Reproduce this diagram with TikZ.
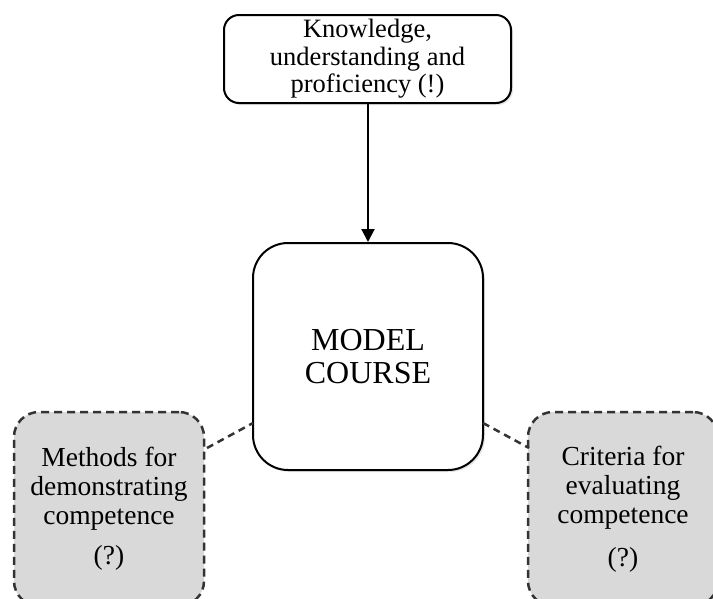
\documentclass[tikz,border=0pt]{standalone}
\usepackage{xcolor}
\usepackage{fontspec}
\setmainfont{Liberation Serif}
\usepackage{tikz}
\usetikzlibrary{positioning}
\usetikzlibrary{shapes.geometric, arrows.meta, shadows}

\definecolor{boxgray}{HTML}{D9D9D9}
\definecolor{edgegray}{HTML}{333333}

\begin{document}
\begin{tikzpicture}[
    x=1pt, y=-1pt,
    topbox/.style={
        rectangle,
        rounded corners=15pt,
        draw=black,
        line width=2pt,
        fill=white,
        align=center,
        text centered,
        inner sep=0pt,
        minimum width=287pt,
        minimum height=88pt,
        font=\fontsize{26.5}{27.5}\selectfont,
        drop shadow={opacity=0.2, shadow xshift=2pt, shadow yshift=-2pt}
    },
    hubbox/.style={
        rectangle,
        rounded corners=35pt,
        draw=black,
        line width=2pt,
        fill=white,
        align=center,
        inner sep=0pt,
        minimum width=230pt,
        minimum height=227pt,
        font=\fontsize{32}{33}\selectfont,
        drop shadow={opacity=0.2, shadow xshift=2pt, shadow yshift=-2pt}
    },
    sidebox/.style={
        rectangle,
        rounded corners=25pt,
        draw=edgegray,
        dash pattern=on 8pt off 5pt,
        line width=2.5pt,
        fill=boxgray,
        align=center,
        inner sep=0pt,
        minimum width=190pt,
        minimum height=194pt,
        font=\fontsize{27.5}{29}\selectfont
    },
    relation/.style={
        -{Triangle[length=13pt, width=13pt]},
        line width=2pt
    },
    dashlink/.style={
        edgegray,
        line width=2.5pt,
        dash pattern=on 7pt off 5pt
    }
]

\useasboundingbox (0,0) rectangle (713,598);
\clip (0,0) rectangle (713,598);

\node[topbox] (knowledge) at (367.5,59) {Knowledge,\\understanding and\\proficiency (!)};
\node[hubbox] (model) at (368,356.5) {MODEL\\COURSE};
\node[sidebox] (methods) at (109,509) {Methods for\\demonstrating\\competence\\[11pt](?)};
\node[sidebox] (criteria) at (623,509) {Criteria for\\evaluating\\competence\\[14pt](?)};

\coordinate (mL) at (253,423);
\coordinate (mR) at (483,423);
\coordinate (sL) at (207,448);
\coordinate (sR) at (529,448);

\draw[relation] (knowledge.south -| model.north) -- (model.north);
\draw[dashlink] (sL) -- (mL);
\draw[dashlink] (mR) -- (sR);

\end{tikzpicture}
\end{document}
